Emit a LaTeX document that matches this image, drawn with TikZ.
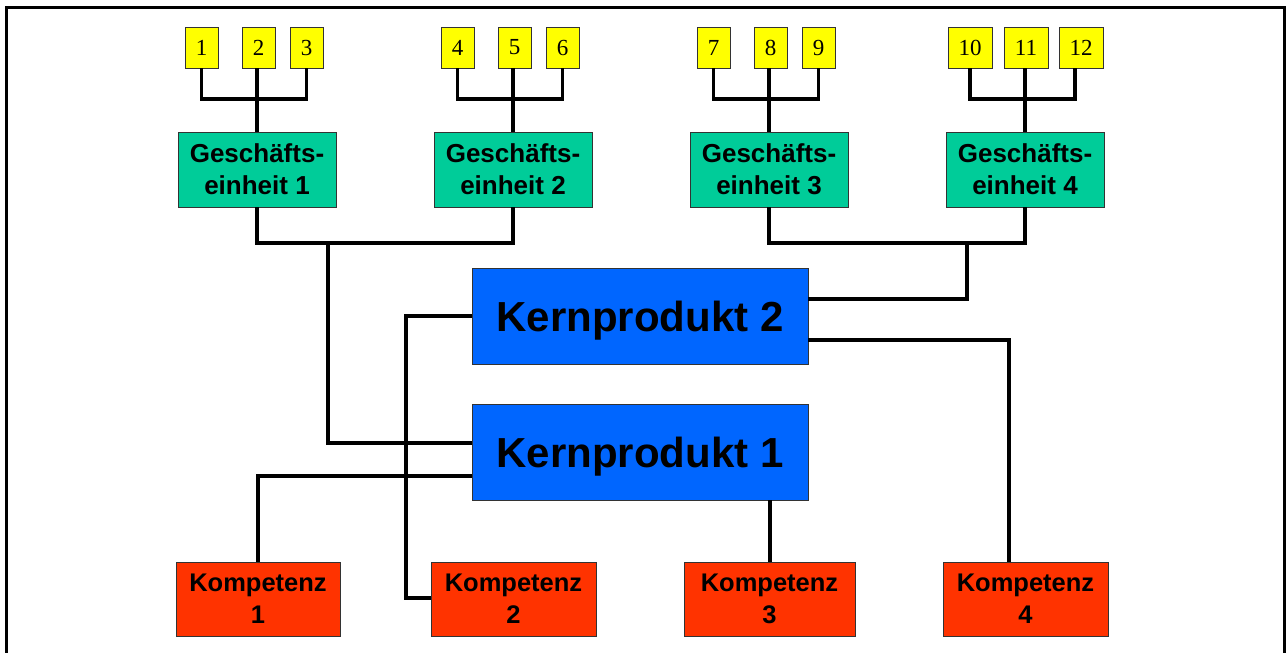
\documentclass[tikz,border=0pt]{standalone}
\usepackage{fontspec}
\setmainfont{Liberation Serif}
\setsansfont{Liberation Sans}
\definecolor{ygel}{RGB}{255,255,0}
\definecolor{ggreen}{RGB}{0,204,153}
\definecolor{kblue}{RGB}{0,102,255}
\definecolor{kred}{RGB}{255,51,0}
\begin{document}
\begin{tikzpicture}[x=1pt,y=-1pt,
  box/.style={draw=black!80,line width=0.8pt,inner sep=0pt,align=center},
  numbox/.style={box,fill=ygel,minimum height=41pt,minimum width=33pt,font=\fontsize{23}{26}\selectfont},
  widenum/.style={numbox,minimum width=44pt},
  gebox/.style={box,fill=ggreen,minimum width=158pt,minimum height=75pt,font=\sffamily\bfseries\fontsize{26}{32}\selectfont},
  kpbox/.style={box,fill=kblue,minimum width=336pt,minimum height=96pt,text height=30pt,text depth=0pt,font=\sffamily\bfseries\fontsize{42}{48}\selectfont},
  kobox/.style={box,fill=kred,minimum height=74pt,font=\sffamily\bfseries\fontsize{25.5}{32}\selectfont},
  conn/.style={line width=3.3pt,black}]
\useasboundingbox (0,0) rectangle (1286,653);
\fill[white] (0,0) rectangle (1286,653);
% frame
\draw[line width=3pt] (6,660) -- (6,7) -- (1284,7) -- (1284,660);
% number boxes
\node[numbox] (y1) at (201.5,47.5) {1};
\node[numbox] (y2) at (258.5,47.5) {2};
\node[numbox] (y3) at (306.5,47.5) {3};
\node[numbox] (y4) at (457.5,47.5) {4};
\node[numbox] (y5) at (514.5,47.5) {5};
\node[numbox] (y6) at (562.5,47.5) {6};
\node[numbox] (y7) at (713.5,47.5) {7};
\node[numbox] (y8) at (770.5,47.5) {8};
\node[numbox] (y9) at (818.5,47.5) {9};
\node[widenum] (y10) at (970,47.5) {10};
\node[widenum] (y11) at (1026,47.5) {11};
\node[widenum] (y12) at (1081,47.5) {12};
% business units
\node[gebox] (ge1) at (257,169.5) {Geschäfts-\\einheit 1};
\node[gebox] (ge2) at (513,169.5) {Geschäfts-\\einheit 2};
\node[gebox] (ge3) at (769,169.5) {Geschäfts-\\einheit 3};
\node[gebox] (ge4) at (1025,169.5) {Geschäfts-\\einheit 4};
% core products
\node[kpbox] (kp2) at (640,316) {Kernprodukt 2};
\node[kpbox] (kp1) at (640,452) {Kernprodukt 1};
% competences
\node[kobox,minimum width=164pt] (k1) at (258,599) {Kompetenz\\1};
\node[kobox,minimum width=165pt] (k2) at (513.5,599) {Kompetenz\\2};
\node[kobox,minimum width=171pt] (k3) at (769.5,599) {Kompetenz\\3};
\node[kobox,minimum width=165pt] (k4) at (1025.5,599) {Kompetenz\\4};
% junction coordinates
\coordinate (j1) at (328,243);
\coordinate (j2) at (967,243);
% number -> business unit connectors
\draw[conn] (y1.south) -- (y1.south |- 0,99) -- (y3.south |- 0,99) -- (y3.south);
\draw[conn] (ge1.north) -- (ge1.north |- y2.south);
\draw[conn] (y4.south) -- (y4.south |- 0,99) -- (y6.south |- 0,99) -- (y6.south);
\draw[conn] (ge2.north) -- (ge2.north |- y5.south);
\draw[conn] (y7.south) -- (y7.south |- 0,99) -- (y9.south |- 0,99) -- (y9.south);
\draw[conn] (ge3.north) -- (ge3.north |- y8.south);
\draw[conn] (y10.south) -- (y10.south |- 0,99) -- ([xshift=-6pt]y12.south |- 0,99) -- ([xshift=-6pt]y12.south);
\draw[conn] (ge4.north) -- (ge4.north |- y11.south);
% business units -> core products
\draw[conn] (ge1.south) -- (ge1.south |- j1) -- (ge2.south |- j1) -- (ge2.south);
\draw[conn] (j1) -- (j1 |- 0,443) -- (kp1.west |- 0,443);
\draw[conn] (ge3.south) -- (ge3.south |- j2) -- (ge4.south |- j2) -- (ge4.south);
\draw[conn] (j2) -- (j2 |- 0,299) -- (kp2.east |- 0,299);
% core products -> competences
\draw[conn] (kp2.east |- 0,340) -- (1009,340) -- (k4.north -| 1009,0);
\draw[conn] (kp2.west |- 0,316) -- (406,316) -- (406,598) -- (k2.west |- 0,598);
\draw[conn] (kp1.west |- 0,476) -- (k1.north |- 0,476) -- (k1.north);
\draw[conn] (kp1.south -| 770,0) -- (k3.north -| 770,0);
\end{tikzpicture}
\end{document}
